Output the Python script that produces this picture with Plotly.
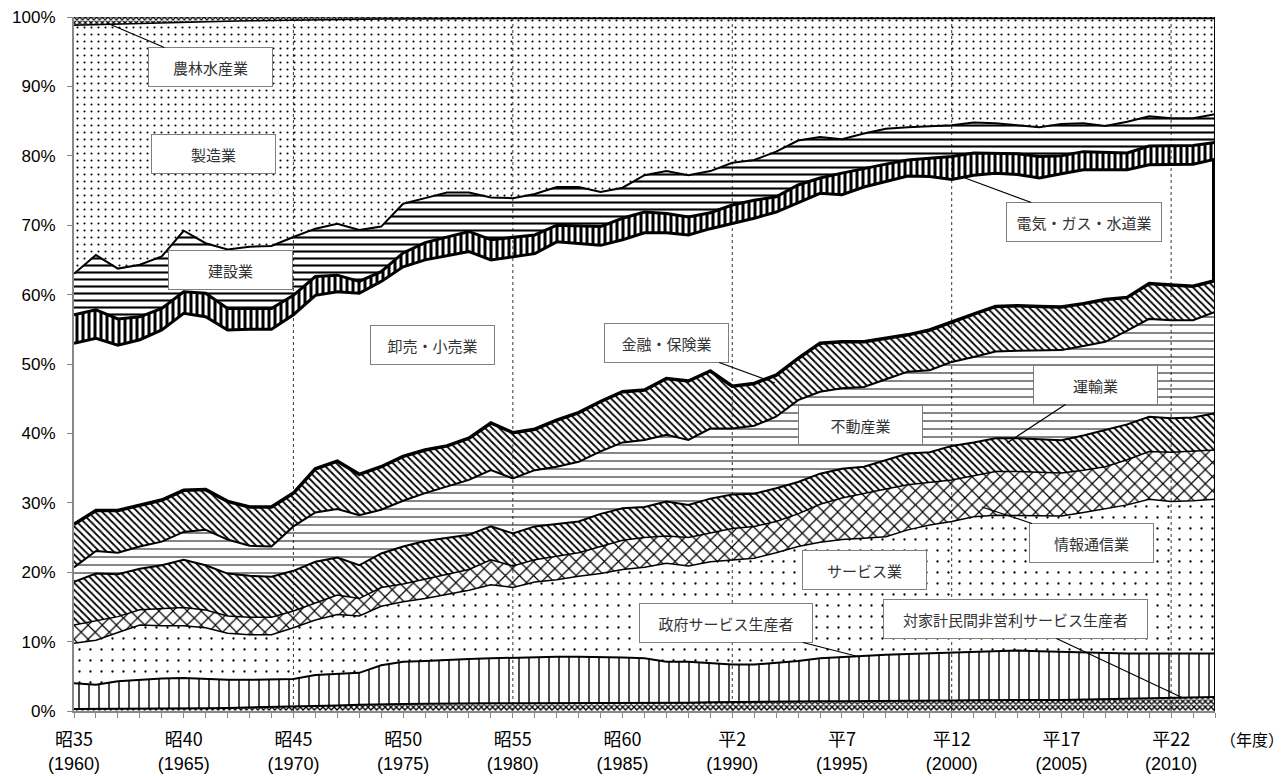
import numpy as np
import plotly.graph_objects as go

# ---------------- data (cumulative upper boundary of each band, % of total) ----------------
years = list(range(1960, 2013))

top_npish = [0.3, 0.3, 0.3, 0.3, 0.3, 0.35, 0.4, 0.45, 0.5, 0.55,
             0.6, 0.7, 0.8, 0.9, 1.0, 1.0, 1.05, 1.1, 1.1, 1.1,
             1.1, 1.1, 1.15, 1.15, 1.2, 1.2, 1.2, 1.2, 1.2, 1.25,
             1.3, 1.3, 1.3, 1.35, 1.4, 1.4, 1.4, 1.45, 1.5, 1.5,
             1.5, 1.55, 1.6, 1.6, 1.6, 1.6, 1.65, 1.7, 1.8, 1.9,
             1.9, 1.95, 2.0]
top_gov = [4.0, 3.8, 4.3, 4.5, 4.7, 4.75, 4.6, 4.5, 4.5, 4.6,
           4.6, 5.2, 5.4, 5.5, 6.6, 7.1, 7.2, 7.4, 7.5, 7.6,
           7.7, 7.7, 7.8, 7.8, 7.8, 7.7, 7.6, 7.1, 7.1, 6.9,
           6.7, 6.7, 6.9, 7.2, 7.6, 7.8, 8.0, 8.1, 8.2, 8.3,
           8.4, 8.5, 8.6, 8.7, 8.6, 8.5, 8.4, 8.3, 8.3, 8.3,
           8.3, 8.3, 8.3]
top_service = [9.75, 10.2, 11.3, 12.4, 12.3, 12.3, 12.0, 11.2, 11.0, 11.0,
               12.0, 13.1, 13.9, 13.7, 15.1, 15.75, 16.2, 16.8, 17.4, 18.2,
               17.8, 18.6, 18.9, 19.4, 19.8, 20.4, 20.7, 21.3, 20.9, 21.5,
               21.8, 22.0, 22.8, 23.7, 24.3, 24.7, 24.9, 25.1, 26.1, 26.8,
               27.3, 28.0, 28.2, 28.2, 28.1, 28.1, 28.6, 29.2, 29.7, 30.5,
               30.2, 30.3, 30.5]
top_info = [12.4, 13.0, 13.6, 14.6, 14.8, 14.9, 14.55, 13.7, 13.5, 13.5,
            14.4, 15.5, 16.7, 16.2, 17.8, 18.3, 19.0, 19.6, 20.4, 21.8,
            20.9, 21.8, 22.3, 22.8, 23.7, 24.6, 25.0, 25.2, 25.0, 25.7,
            26.3, 26.6, 27.3, 28.4, 29.8, 30.7, 31.4, 32.0, 32.6, 32.9,
            33.3, 33.9, 34.5, 34.5, 34.4, 34.3, 34.7, 35.2, 36.2, 37.4,
            37.3, 37.4, 37.6]
top_transport = [18.6, 19.8, 19.7, 20.5, 21.0, 21.8, 21.0, 19.8, 19.5, 19.35,
                 20.2, 21.5, 22.1, 21.0, 22.7, 23.7, 24.5, 25.0, 25.4, 26.6,
                 25.6, 26.6, 27.0, 27.3, 28.4, 29.2, 29.4, 30.2, 29.7, 30.6,
                 31.2, 31.3, 32.1, 33.0, 34.2, 34.9, 35.2, 36.2, 37.1, 37.3,
                 38.2, 38.7, 39.3, 39.3, 39.2, 39.0, 39.7, 40.5, 41.3, 42.4,
                 42.2, 42.3, 42.9]
top_realestate = [20.7, 23.05, 22.8, 23.7, 24.4, 25.8, 26.1, 24.7, 23.8, 23.7,
                  26.6, 28.6, 29.1, 28.2, 29.0, 30.3, 31.4, 32.3, 33.3, 34.7,
                  33.5, 34.7, 35.2, 35.9, 37.4, 38.7, 39.05, 39.8, 39.05, 40.7,
                  40.7, 41.1, 42.4, 44.8, 46.0, 46.5, 46.7, 47.8, 48.9, 49.1,
                  50.3, 51.0, 51.8, 51.9, 51.9, 52.0, 52.6, 53.2, 54.8, 56.5,
                  56.3, 56.3, 57.5]
top_finance = [26.9, 28.9, 28.9, 29.7, 30.4, 31.8, 31.9, 30.2, 29.4, 29.4,
               31.4, 34.9, 36.0, 34.1, 35.2, 36.7, 37.6, 38.2, 39.3, 41.5,
               40.1, 40.6, 41.9, 43.0, 44.6, 46.0, 46.25, 47.9, 47.55, 49.0,
               46.8, 47.2, 48.4, 50.8, 53.0, 53.2, 53.2, 53.7, 54.2, 54.9,
               56.1, 57.2, 58.3, 58.4, 58.3, 58.2, 58.7, 59.3, 59.6, 61.6,
               61.4, 61.2, 62.0]
top_wholesale = [53.0, 53.7, 52.7, 53.5, 54.9, 57.3, 56.8, 54.9, 55.0, 55.0,
                 57.1, 59.9, 60.4, 60.2, 61.9, 64.0, 65.0, 65.6, 66.2, 65.0,
                 65.5, 65.9, 67.6, 67.4, 67.1, 67.9, 68.9, 68.9, 68.6, 69.5,
                 70.2, 71.0, 71.9, 73.3, 74.6, 74.4, 75.5, 76.3, 77.1, 77.0,
                 76.6, 77.2, 77.5, 77.3, 76.8, 77.4, 78.0, 78.0, 78.0, 78.7,
                 78.7, 78.8, 79.5]
top_utility = [57.1, 57.8, 56.5, 56.8, 58.0, 60.4, 60.2, 58.0, 58.0, 58.0,
               59.9, 62.6, 62.8, 61.9, 63.3, 66.0, 67.5, 68.3, 69.1, 67.9,
               68.3, 68.6, 70.0, 69.9, 69.8, 71.0, 71.9, 71.7, 71.2, 71.8,
               72.9, 73.6, 74.1, 75.8, 76.8, 77.5, 78.2, 78.8, 79.4, 79.6,
               79.9, 80.4, 80.3, 80.3, 79.9, 80.0, 80.6, 80.5, 80.4, 81.4,
               81.4, 81.5, 81.9]
top_construction = [63.0, 65.7, 63.75, 64.3, 65.5, 69.2, 67.4, 66.5, 66.9, 67.0,
                    68.3, 69.5, 70.2, 69.3, 69.8, 73.1, 73.9, 74.7, 74.7, 74.0,
                    73.9, 74.5, 75.5, 75.5, 74.8, 75.4, 77.2, 77.8, 77.2, 77.8,
                    79.0, 79.4, 80.6, 82.2, 82.7, 82.4, 83.2, 83.9, 84.1, 84.2,
                    84.4, 84.8, 84.7, 84.4, 84.1, 84.6, 84.7, 84.3, 84.9, 85.7,
                    85.4, 85.4, 86.0]
top_manufacturing = [98.8, 98.9, 99.0, 99.1, 99.2, 99.3, 99.35, 99.4, 99.45, 99.5,
                     99.6, 99.62, 99.65, 99.68, 99.7, 99.72, 99.75, 99.78, 99.8, 99.8,
                     99.8, 99.8, 99.8, 99.8, 99.8, 99.8, 99.8, 99.8, 99.8, 99.8,
                     99.8, 99.8, 99.8, 99.8, 99.8, 99.8, 99.8, 99.8, 99.8, 99.8,
                     99.8, 99.8, 99.8, 99.8, 99.8, 99.8, 99.8, 99.8, 99.8, 99.8,
                     99.8, 99.8, 99.8]
top_total = [100.0] * len(years)

sector_names = ['対家計民間非営利サービス生産者', '政府サービス生産者', 'サービス業', '情報通信業',
                '運輸業', '不動産業', '金融・保険業', '卸売・小売業', '電気・ガス・水道業',
                '建設業', '製造業', '農林水産業']

label_years = [1960, 1965, 1970, 1975, 1980, 1985, 1990, 1995, 2000, 2005, 2010]
era_labels = ['昭35', '昭40', '昭45', '昭50', '昭55', '昭60', '平2', '平7', '平12', '平17', '平22']
year_labels = ['(1960)', '(1965)', '(1970)', '(1975)', '(1980)', '(1985)', '(1990)',
               '(1995)', '(2000)', '(2005)', '(2010)']
grid_years = [1970, 1980, 1990, 2000, 2010]
y_ticks = [0, 10, 20, 30, 40, 50, 60, 70, 80, 90, 100]
y_tick_labels = ['0%', '10%', '20%', '30%', '40%', '50%', '60%', '70%', '80%', '90%', '100%']

# ---------------- derive band shares ----------------
tops = np.array([top_npish, top_gov, top_service, top_info, top_transport, top_realestate,
                 top_finance, top_wholesale, top_utility, top_construction,
                 top_manufacturing, top_total])
bottoms = np.vstack([np.zeros(len(years)), tops[:-1]])
shares = tops - bottoms

# ---------------- styles ----------------
patterns = [
    dict(shape='x', size=4, solidity=0.55),
    dict(shape='|', size=10, solidity=0.14),
    dict(shape='.', size=11, solidity=0.035),
    dict(shape='x', size=10, solidity=0.22),
    dict(shape='\\', size=5, solidity=0.35),
    dict(shape='-', size=8, solidity=0.12),
    dict(shape='\\', size=5, solidity=0.35),
    None,
    dict(shape='|', size=6, solidity=0.5),
    dict(shape='-', size=7, solidity=0.3),
    dict(shape='.', size=7, solidity=0.07),
    dict(shape='x', size=4, solidity=0.5),
]
line_widths = [2, 2, 1.5, 1.5, 2, 2, 3.5, 3, 3, 2, 1.5, 1]

fig = go.Figure()
for name, s, pat, lw in zip(sector_names, shares, patterns, line_widths):
    kw = dict(x=years, y=s, name=name, stackgroup='one', mode='lines',
              line=dict(color='black', width=lw, shape='linear'),
              fillcolor='white', hoverinfo='skip', showlegend=False)
    if pat is not None:
        kw['fillpattern'] = dict(fgcolor='black', bgcolor='white', fillmode='replace', **pat)
    fig.add_trace(go.Scatter(**kw))

# right-hand edges of the areas (Excel-style area outlines)
fig.add_trace(go.Scatter(x=[years[-1], years[-1]], y=[0, top_total[-1]], mode='lines',
                         line=dict(color='black', width=2), hoverinfo='skip', showlegend=False))
fig.add_trace(go.Scatter(x=[years[-1], years[-1]], y=[top_finance[-1], top_wholesale[-1]],
                         mode='lines', line=dict(color='black', width=6),
                         hoverinfo='skip', showlegend=False))
# invisible trace to carry the second x axis (year row)
fig.add_trace(go.Scatter(x=[years[0]], y=[0], xaxis='x2', mode='markers',
                         marker=dict(opacity=0), hoverinfo='skip', showlegend=False))

# ---------------- layout ----------------
OFF = 8                      # page body margin of the HTML output
W, H = 1287 - OFF, 776 - OFF
# plot-area edges in page pixels
L, R, T, B = 74, 1215, 17, 711
FONT = 'Noto Sans CJK JP'
NUM_FONT = 'Liberation Sans'


def px(xp, yp):
    return (xp - L) / (R - L), (B - yp) / (B - T)


annots = [
    # text, center px, box width, tip px
    ('農林水産業', (210, 67), 125, (107, 23)),
    ('製造業', (213, 154), 125, None),
    ('建設業', (230, 270), 125, None),
    ('卸売・小売業', (432, 345), 125, None),
    ('金融・保険業', (666, 343), 125, (775, 383)),
    ('不動産業', (860, 425), 125, None),
    ('運輸業', (1095, 385), 125, (1007, 443)),
    ('電気・ガス・水道業', (1084, 222), 156, (965, 178)),
    ('情報通信業', (1091, 543), 125, (982, 507)),
    ('サービス業', (864, 570), 125, None),
    ('政府サービス生産者', (726, 623), 174, (860, 657)),
    ('対家計民間非営利サービス生産者', (1015, 619), 265, (1183, 698)),
]
annotations = []
for text, (cx, cy), bw, tip in annots:
    base = dict(text=text, xref='paper', yref='paper', width=bw - 4, height=36,
                bgcolor='white', bordercolor='#7f7f7f', borderwidth=1, borderpad=1,
                font=dict(family=FONT, size=15, color='#333333'), align='center')
    if tip is None:
        xx, yy = px(cx, cy)
        base.update(x=xx, y=yy, showarrow=False, xanchor='center', yanchor='middle')
    else:
        xx, yy = px(*tip)
        base.update(x=xx, y=yy, showarrow=True, arrowhead=0, arrowwidth=1.2,
                    arrowcolor='black', ax=cx - tip[0], ay=cy - tip[1])
    annotations.append(base)

xx, yy = px(1252, 739)
annotations.append(dict(text='（年度）', xref='paper', yref='paper', x=xx, y=yy,
                        showarrow=False, xanchor='center', yanchor='middle',
                        font=dict(family=FONT, size=16, color='black')))

shapes = [dict(type='line', xref='x', yref='paper', x0=g, x1=g, y0=0, y1=1, layer='above',
               line=dict(color='black', width=0.8, dash='3px,3px')) for g in grid_years]

fig.update_layout(
    width=W, height=H,
    margin=dict(l=L - OFF, r=W - (R - OFF), t=T - OFF, b=H - (B - OFF), autoexpand=False),
    paper_bgcolor='white', plot_bgcolor='white',
    font=dict(family=FONT, size=16, color='black'),
    xaxis=dict(range=[years[0], years[-1]], tickvals=label_years, ticktext=era_labels,
               ticks='outside', ticklen=5, tickcolor='#888888', tickwidth=1.2,
               showline=True, linecolor='#888888', linewidth=2, showgrid=False,
               zeroline=False, layer='above traces', ticklabelstandoff=6,
               automargin=False, ticklabeloverflow='allow',
               tickfont=dict(family=FONT, size=18, color='black'),
               minor=dict(tickvals=years, ticks='outside', ticklen=5,
                          tickcolor='#888888', tickwidth=1.2)),
    xaxis2=dict(range=[years[0], years[-1]], overlaying='x', anchor='y', side='bottom',
                tickvals=label_years, ticktext=year_labels, ticks='', showline=False,
                showgrid=False, zeroline=False, ticklabelstandoff=40, automargin=False,
                ticklabeloverflow='allow',
                tickfont=dict(family=NUM_FONT, size=18, color='black')),
    yaxis=dict(range=[0, 100], tickvals=y_ticks, ticktext=y_tick_labels, ticks='outside',
               ticklen=5, tickcolor='#888888', tickwidth=1.2, showline=True,
               linecolor='#888888', linewidth=2, showgrid=False, zeroline=False,
               layer='above traces', ticklabelstandoff=8, automargin=False,
               ticklabeloverflow='allow',
               tickfont=dict(family=NUM_FONT, size=17, color='black')),
    annotations=annotations,
    shapes=shapes,
)

fig.write_html('out.html')
